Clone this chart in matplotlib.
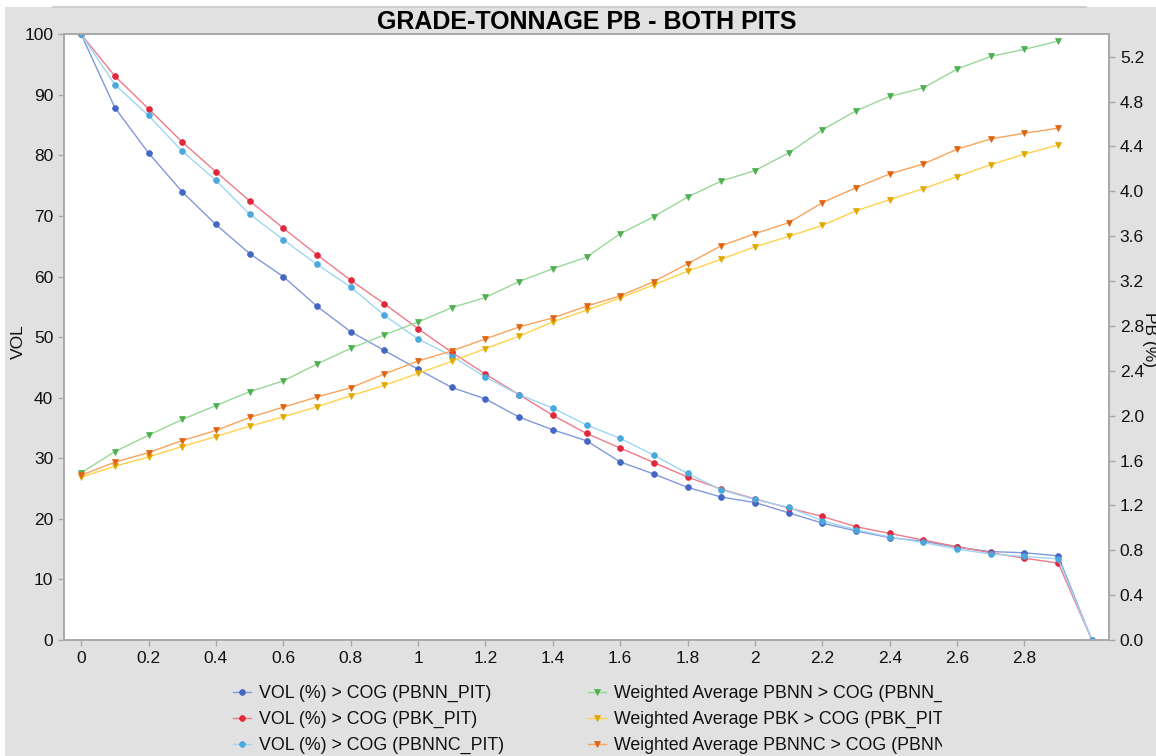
import matplotlib
matplotlib.use("Agg")
import matplotlib.pyplot as plt
from matplotlib.lines import Line2D
from matplotlib.transforms import Bbox
from matplotlib.patches import Rectangle

plt.rcParams['font.family'] = ['Liberation Sans', 'DejaVu Sans']

# ---------------- data ----------------
cog = [0.0, 0.1, 0.2, 0.3, 0.4, 0.5, 0.6, 0.7, 0.8, 0.9,
       1.0, 1.1, 1.2, 1.3, 1.4, 1.5, 1.6, 1.7, 1.8, 1.9,
       2.0, 2.1, 2.2, 2.3, 2.4, 2.5, 2.6, 2.7, 2.8, 2.9, 3.0]

vol_pbnn = [100, 87.9, 80.4, 74.0, 68.6, 63.8, 60.0, 55.1, 50.9, 47.8,
            44.7, 41.7, 39.8, 36.8, 34.7, 32.9, 29.4, 27.4, 25.2, 23.6,
            22.7, 21.0, 19.3, 18.0, 16.9, 16.3, 15.3, 14.6, 14.4, 13.9, 0]
vol_pbk = [100, 93.1, 87.7, 82.2, 77.3, 72.5, 68.0, 63.6, 59.4, 55.5,
           51.4, 47.5, 43.9, 40.5, 37.1, 34.1, 31.7, 29.3, 26.9, 24.9,
           23.3, 21.8, 20.4, 18.7, 17.6, 16.5, 15.4, 14.4, 13.5, 12.7, 0]
vol_pbnnc = [100, 91.7, 86.6, 80.7, 75.9, 70.3, 66.1, 62.0, 58.3, 53.6,
             49.7, 46.9, 43.4, 40.5, 38.3, 35.5, 33.3, 30.5, 27.5, 24.8,
             23.2, 21.9, 19.7, 18.2, 17.0, 16.1, 15.0, 14.2, 13.8, 13.4, 0]

cog_w = cog[:30]
wavg_pbnn = [1.49, 1.68, 1.825, 1.966, 2.09, 2.214, 2.31, 2.46, 2.60, 2.72,
             2.835, 2.963, 3.054, 3.196, 3.31, 3.413, 3.622, 3.774, 3.949, 4.092,
             4.185, 4.342, 4.548, 4.718, 4.846, 4.923, 5.09, 5.203, 5.266, 5.34]
wavg_pbk = [1.451, 1.549, 1.632, 1.725, 1.814, 1.906, 1.99, 2.079, 2.178, 2.27,
            2.377, 2.484, 2.598, 2.708, 2.836, 2.94, 3.05, 3.166, 3.288, 3.395,
            3.506, 3.598, 3.696, 3.827, 3.926, 4.024, 4.131, 4.238, 4.331, 4.414]
wavg_pbnnc = [1.469, 1.585, 1.671, 1.778, 1.868, 1.984, 2.076, 2.166, 2.249, 2.371,
              2.487, 2.577, 2.684, 2.791, 2.872, 2.976, 3.068, 3.196, 3.354, 3.515,
              3.622, 3.72, 3.899, 4.033, 4.155, 4.244, 4.375, 4.468, 4.518, 4.563]

vol_labels = ["VOL (%) > COG (PBNN_PIT)", "VOL (%) > COG (PBK_PIT)", "VOL (%) > COG (PBNNC_PIT)"]
wavg_labels = ["Weighted Average PBNN > COG (PBNN_PIT)",
               "Weighted Average PBK > COG (PBK_PIT)",
               "Weighted Average PBNNC > COG (PBNNC_PIT)"]
x_ticks = [0, 0.2, 0.4, 0.6, 0.8, 1.0, 1.2, 1.4, 1.6, 1.8, 2.0, 2.2, 2.4, 2.6, 2.8]
left_ticks = [0, 10, 20, 30, 40, 50, 60, 70, 80, 90, 100]
right_ticks = [0.0, 0.4, 0.8, 1.2, 1.6, 2.0, 2.4, 2.8, 3.2, 3.6, 4.0, 4.4, 4.8, 5.2]

# styles (line colour, marker colour)
vol_styles = [('#8198dc', '#4466c4'), ('#f07a88', '#e0283c'), ('#9dd6f4', '#4aa8dc')]
wavg_styles = [('#98d898', '#4caf50'), ('#ffd24a', '#e0a800'), ('#f8a45c', '#e06410')]

W, H = 1156, 756
fig = plt.figure(figsize=(W / 100, H / 100), dpi=100)
fig.patch.set_facecolor('#e1e1e1')
# white strips at top and left edge
fig.patches.append(Rectangle((0, 1 - 7 / H), 1, 7 / H, transform=fig.transFigure,
                             facecolor='white', edgecolor='none', zorder=-1))
fig.patches.append(Rectangle((0, 0), 5 / W, 1, transform=fig.transFigure,
                             facecolor='white', edgecolor='none', zorder=-1))
fig.lines.append(Line2D([53 / W, 1086 / W], [1 - 6.5 / H, 1 - 6.5 / H], transform=fig.transFigure,
                        color='#c8c8c8', lw=1.2))

ax = fig.add_axes([64.3 / W, 1 - 640 / H, (1108.7 - 64.3) / W, (640 - 34.3) / H])
ax.set_facecolor('white')
ax2 = ax.twinx()

for y, lab, (lc, mc) in zip([vol_pbnn, vol_pbk, vol_pbnnc], vol_labels, vol_styles):
    ax.plot(cog, y, color=lc, lw=1.0, marker='o', ms=4.2, mfc=mc, mec=mc, mew=0.5, label=lab)

for y, lab, (lc, mc) in zip([wavg_pbnn, wavg_pbk, wavg_pbnnc], wavg_labels, wavg_styles):
    ax2.plot(cog_w, y, color=lc, lw=1.0, marker='v', ms=4.6, mfc=mc, mec=mc, mew=0.5, label=lab)

ax.set_xlim(-0.05, 3.05)
ax.set_ylim(0, 100)
ax2.set_ylim(0, 5.4)
ax.set_xticks(x_ticks)
ax.set_xticklabels(['%g' % t for t in x_ticks])
ax.set_yticks(left_ticks)
ax2.set_yticks(right_ticks)
ax2.set_yticklabels(['%.1f' % t for t in right_ticks])

for a in (ax, ax2):
    for s in a.spines.values():
        s.set_color('#a8a8a8')
        s.set_linewidth(1.2)
    a.tick_params(direction='out', length=4, width=1, color='#a8a8a8',
                  labelsize=12.5, labelcolor='#111111', pad=4)

fig.text(18 / W, 1 - 342 / H, 'VOL', rotation=90, ha='center', va='center', fontsize=12.5, color='#111111')
fig.text(1150 / W, 1 - 340 / H, 'PB (%)', rotation=-90, ha='center', va='center', fontsize=12.5, color='#111111')

fig.text(586.5 / W, 1 - 22 / H, 'GRADE-TONNAGE PB - BOTH PITS', ha='center', va='center',
         fontsize=18, fontweight='bold', color='black')

# legends
h1, l1 = ax.get_legend_handles_labels()
h2, l2 = ax2.get_legend_handles_labels()
common = dict(loc='upper left', bbox_transform=fig.transFigure, frameon=False, borderpad=0,
              borderaxespad=0, handlelength=1.0, handletextpad=0.45, labelspacing=0.5,
              fontsize=12.8, markerscale=1.0)
leg1 = fig.legend(h1, l1, bbox_to_anchor=(233 / W, 1 - 685 / H), **common)
leg2 = fig.legend(h2, l2, bbox_to_anchor=(588 / W, 1 - 685 / H), **common)
for t in leg1.get_texts() + leg2.get_texts():
    t.set_color('#111111')
clip = Bbox.from_extents(0, 0, 942, H)
for t in leg2.get_texts():
    t.set_clip_box(clip)
    t.set_clip_on(True)

fig.savefig('out.png', dpi=100, facecolor=fig.get_facecolor())
